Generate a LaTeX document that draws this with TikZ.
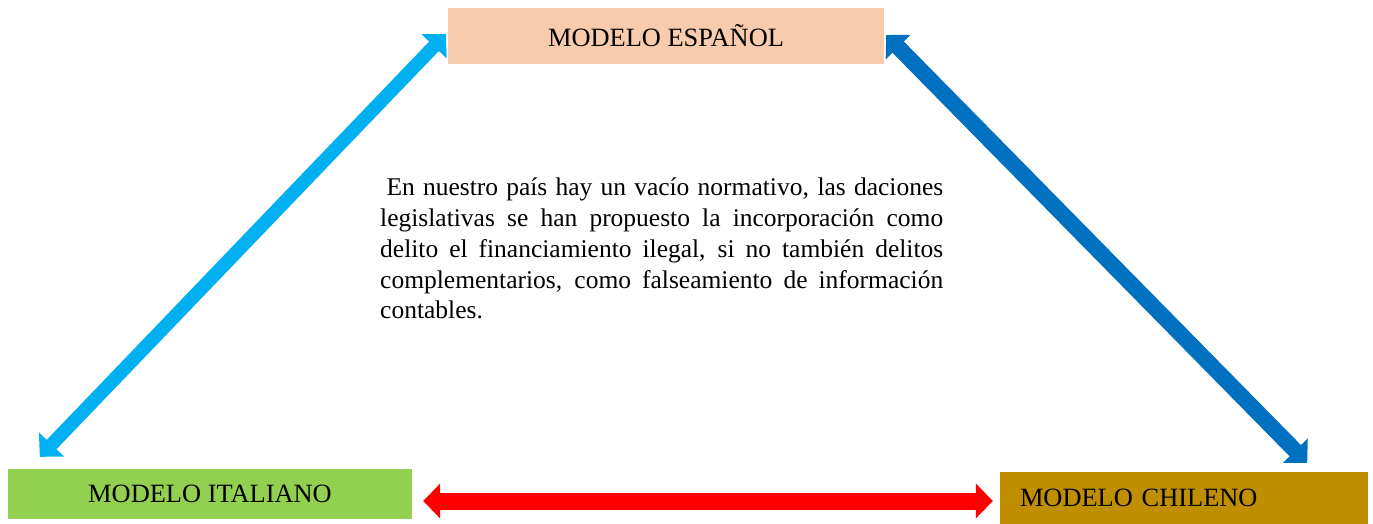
\documentclass[tikz,border=0pt]{standalone}
\usepackage{fontspec}
\setmainfont{Liberation Serif}
\usepackage{xcolor}
\usetikzlibrary{arrows.meta, positioning, calc}
\definecolor{espfill}{HTML}{F8CBAD}
\definecolor{itafill}{HTML}{92D050}
\definecolor{chifill}{HTML}{BF8F00}
\definecolor{lightblue}{HTML}{00B0F0}
\definecolor{darkblue}{HTML}{0070C0}

\begin{document}
\begin{tikzpicture}[x=1pt, y=-1pt]
    \tikzstyle{modelo} = [rectangle, inner sep=0pt, text=black, font=\fontsize{26.4}{31}\selectfont]
    \tikzstyle{blockarrow} = [{Triangle[width=34pt,length=17pt]}-{Triangle[width=34pt,length=17pt]}]
    \tikzstyle{texto} = [inner sep=0pt, text width=563pt, align=justify, font=\fontsize{25.5}{30.7}\selectfont]

    \useasboundingbox (0,0) rectangle (1373,524);

    \node[modelo, fill=espfill, minimum width=436pt, minimum height=56pt] (esp) at (666,36) {MODELO ESPAÑOL};
    \node[modelo, fill=itafill, minimum width=404pt, minimum height=50pt] (ita) at (210,494) {MODELO ITALIANO};
    \node[modelo, fill=chifill, minimum width=368pt, minimum height=52pt, text width=328pt, align=left] (chi) at (1184,498) {MODELO CHILENO};

    \node[texto, anchor=north west] (vacio) at (380,178) {\hspace*{0.25em}En nuestro país hay un vacío normativo, las daciones\linebreak legislativas se han propuesto la incorporación como\linebreak delito el financiamiento ilegal, si no también delitos\linebreak complementarios, como falseamiento de información\linebreak contables.};

    \draw[blockarrow, line width=13.5pt, lightblue] ($(ita.north west)+(32,-12)$) -- ($(esp.west)+(-2,-2)$);
    \draw[blockarrow, line width=16pt, darkblue] ($(esp.east)+(2,-1)$) -- ($(chi.north east)+(-61,-9)$);
    \draw[blockarrow, line width=17pt, red] ($(ita.east)+(11,7)$) -- ($(chi.west)+(-7,3)$);
\end{tikzpicture}
\end{document}
